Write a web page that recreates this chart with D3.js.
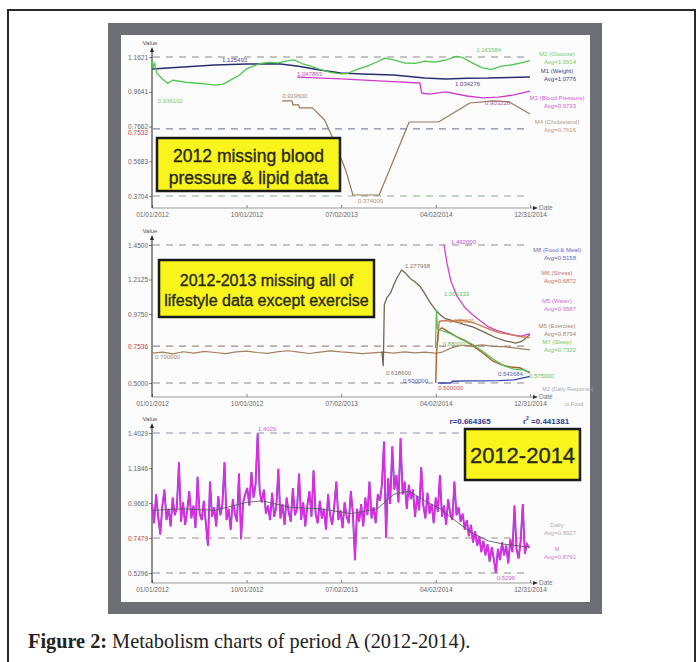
<!DOCTYPE html>
<html>
<head>
<meta charset="utf-8">
<script src="https://cdn.jsdelivr.net/npm/d3@7"></script>
<style>
body { margin: 0; background: #fff; }
svg { display: block; font-family: "Liberation Sans", Arial, sans-serif; }
</style>
</head>
<body>
<script>
// DATA

var dateTicks = ["2012-01-01", "2012-10-01", "2013-07-02", "2014-04-02", "2014-12-31"];

var p1Ticks = [0.3704, 0.5683, 0.7662, 0.9641, 1.1621];
var p2Ticks = [0.5, 0.975, 1.2125, 1.45];
var p3Ticks = [0.5296, 0.7479, 0.9663, 1.1846, 1.4029];

// panel 1 - body measures
var m1Weight = [["2012-01-01",1.094],["2012-04-01",1.105],["2012-07-01",1.116],["2012-10-01",1.122],["2013-01-01",1.123],
  ["2013-03-01",1.110],["2013-05-01",1.088],["2013-07-01",1.071],["2013-09-01",1.065],["2013-12-01",1.060],
  ["2014-03-01",1.042],["2014-05-01",1.037],["2014-07-01",1.041],["2014-09-01",1.042],["2014-11-01",1.046],["2014-12-31",1.048]];

var m2Glucose = [["2012-01-01",1.145],["2012-01-04",1.100],["2012-01-08",1.128],["2012-01-15",1.070],["2012-02-01",1.035],
  ["2012-02-15",1.012],["2012-03-01",1.030],["2012-03-20",1.024],["2012-04-10",1.018],["2012-05-01",1.014],
  ["2012-05-25",1.010],["2012-06-15",1.006],["2012-07-05",1.002],["2012-07-25",1.008],["2012-08-15",1.030],
  ["2012-09-10",1.058],["2012-10-01",1.095],["2012-10-20",1.110],["2012-11-10",1.125],["2012-12-05",1.132],
  ["2013-01-01",1.128],["2013-01-25",1.140],["2013-02-15",1.146],["2013-03-10",1.125],["2013-04-05",1.110],
  ["2013-05-01",1.092],["2013-06-01",1.075],["2013-07-01",1.066],["2013-07-20",1.068],["2013-08-15",1.090],
  ["2013-09-15",1.110],["2013-10-15",1.135],["2013-11-05",1.156],["2013-12-01",1.146],["2014-01-01",1.128],
  ["2014-02-01",1.126],["2014-03-01",1.138],["2014-04-01",1.133],["2014-05-01",1.145],["2014-06-01",1.166],
  ["2014-06-20",1.158],["2014-07-15",1.130],["2014-08-15",1.100],["2014-09-10",1.092],["2014-10-10",1.110],
  ["2014-11-10",1.118],["2014-12-05",1.128],["2014-12-31",1.142]];

var m3Pressure = [["2013-02-24",1.048],["2013-07-01",1.037],["2013-11-01",1.025],["2014-02-15",1.014],["2014-02-20",0.957],
  ["2014-03-15",0.951],["2014-05-01",0.963],["2014-07-01",0.940],["2014-08-15",0.929],["2014-10-01",0.934],
  ["2014-11-15",0.946],["2014-12-31",0.968]];

var m4Chol = [["2013-01-12",0.912],["2013-02-10",0.912],["2013-02-12",0.889],["2013-03-01",0.889],["2013-03-03",0.872],
  ["2013-04-10",0.872],["2013-05-15",0.803],["2013-06-10",0.689],["2013-07-15",0.519],["2013-08-05",0.376],
  ["2013-10-20",0.376],["2014-01-15",0.792],["2014-04-10",0.792],["2014-07-10",0.900],["2014-09-15",0.912],
  ["2014-11-01",0.906],["2014-12-31",0.838]];

// panel 2 - lifestyle
var m5Exercise = [["2012-01-01",0.705],["2012-02-01",0.712],["2012-03-01",0.700],["2012-04-01",0.715],["2012-05-01",0.706],
  ["2012-06-01",0.718],["2012-07-01",0.710],["2012-08-01",0.702],["2012-09-01",0.714],["2012-10-01",0.720],
  ["2012-11-01",0.710],["2012-12-01",0.704],["2013-01-01",0.716],["2013-02-01",0.722],["2013-03-01",0.712],
  ["2013-04-01",0.703],["2013-05-01",0.712],["2013-06-01",0.721],["2013-07-01",0.714],["2013-08-01",0.709],
  ["2013-09-01",0.702],["2013-10-01",0.708],["2013-11-01",0.712],["2013-12-01",0.706],["2014-01-01",0.714],
  ["2014-02-01",0.708],["2014-03-01",0.712],["2014-04-01",0.705],["2014-04-20",0.712],["2014-05-15",0.740],
  ["2014-06-15",0.760],["2014-07-15",0.756],["2014-08-15",0.762],["2014-09-15",0.752],["2014-10-15",0.750],
  ["2014-11-15",0.742],["2014-12-31",0.728]];

var m5Peak = [["2013-10-28",0.715],["2013-11-01",0.619],["2013-11-04",1.040],["2013-11-12",1.090],["2013-11-22",1.120],
  ["2013-12-02",1.180],["2013-12-12",1.230],["2013-12-24",1.278],["2014-01-05",1.255],["2014-01-18",1.220],
  ["2014-02-01",1.195],["2014-02-14",1.170],["2014-02-28",1.120],["2014-03-15",1.060],["2014-03-30",1.010],
  ["2014-04-12",0.975],["2014-04-28",0.945],["2014-05-20",0.930],["2014-06-20",0.905],["2014-07-20",0.885],
  ["2014-08-20",0.850],["2014-09-20",0.815],["2014-10-20",0.790],["2014-11-20",0.775],["2014-12-10",0.790],
  ["2014-12-31",0.835]];

var m5Water = [["2014-04-26",1.450],["2014-05-04",1.330],["2014-05-16",1.200],["2014-06-02",1.100],["2014-06-25",1.020],
  ["2014-07-18",0.970],["2014-08-08",0.930],["2014-08-30",0.890],["2014-09-25",0.862],["2014-10-20",0.845],
  ["2014-11-15",0.830],["2014-12-05",0.822],["2014-12-31",0.840]];

var m6Stress = [["2014-04-06",0.760],["2014-04-12",0.925],["2014-05-01",0.930],["2014-05-20",0.924],["2014-06-10",0.932],
  ["2014-07-01",0.926],["2014-07-20",0.915],["2014-08-15",0.890],["2014-09-10",0.865],["2014-10-05",0.845],
  ["2014-11-01",0.835],["2014-12-01",0.820],["2014-12-31",0.812]];

var m6Low = [["2014-04-02",0.500],["2014-04-04",0.700],["2014-04-10",0.860],["2014-04-20",0.880],["2014-05-10",0.850],
  ["2014-06-01",0.820],["2014-06-28",0.790],["2014-07-25",0.745],["2014-08-20",0.700],["2014-09-15",0.650],
  ["2014-10-10",0.625],["2014-11-05",0.610],["2014-12-01",0.605],["2014-12-31",0.570]];

var m7Sleep = [["2014-04-01",0.740],["2014-04-04",1.000],["2014-04-07",0.870],["2014-04-20",0.860],["2014-05-15",0.840],
  ["2014-06-15",0.800],["2014-07-15",0.770],["2014-08-15",0.720],["2014-09-15",0.665],["2014-10-15",0.620],
  ["2014-11-15",0.595],["2014-12-10",0.590],["2014-12-31",0.575]];

var m8Food = [["2014-04-08",0.500],["2014-05-15",0.500],["2014-05-20",0.512],["2014-07-01",0.514],["2014-08-15",0.515],
  ["2014-10-01",0.516],["2014-11-15",0.522],["2014-12-31",0.545]];

// panel 3 - daily response, one value every 6 days from 01/01/2012
var dailyStart = "2012-01-01";
var dailyStep = 6;
var daily = [
  0.96,0.84,1.02,0.88,0.77,0.95,1.05,0.86,0.93,0.82,
  1.00,0.89,0.94,1.22,0.85,0.97,0.83,0.92,1.04,0.87,
  0.95,0.81,1.13,0.90,0.86,0.98,0.84,0.70,1.10,0.88,
  0.94,0.82,1.01,0.89,0.96,1.22,0.86,0.93,0.80,0.99,
  0.90,0.85,1.15,0.74,0.97,1.02,1.06,0.95,1.16,1.00,
  1.08,1.40,1.04,0.97,1.05,0.90,0.95,0.86,1.03,0.88,
  0.94,1.18,0.87,0.96,0.83,1.00,0.91,0.85,1.06,0.89,
  0.93,1.15,0.86,0.97,0.82,0.95,1.04,0.88,1.17,0.90,
  0.84,0.98,0.87,0.93,0.80,1.02,0.89,0.83,0.95,1.10,
  0.86,0.92,0.81,0.97,0.88,0.84,1.04,0.90,0.61,0.93,
  0.85,0.96,0.82,1.00,0.89,1.10,0.87,0.94,0.84,1.02,
  0.98,1.08,1.35,0.75,1.12,0.96,1.32,1.05,1.14,0.97,
  1.37,1.02,1.10,0.93,1.08,0.99,1.05,0.88,1.01,0.92,
  1.19,0.95,0.87,1.03,0.90,0.96,0.84,1.00,0.91,1.14,
  0.88,0.95,0.83,0.99,0.90,0.86,1.10,0.89,0.94,0.85,
  0.90,0.80,0.86,0.76,0.83,0.72,0.79,0.70,0.76,0.66,
  0.73,0.64,0.71,0.60,0.69,0.62,0.53,0.68,0.61,0.72,
  0.64,0.70,0.59,0.74,0.66,0.95,0.68,0.62,0.73,0.96,
  0.65,0.71,0.69];

var dailyTrend = [["2012-01-01",0.92],["2012-04-01",0.93],["2012-07-01",0.92],["2012-10-01",0.97],["2012-11-15",0.98],
  ["2013-02-01",0.94],["2013-05-01",0.93],["2013-08-01",0.90],["2013-10-15",0.93],["2013-12-01",1.02],
  ["2014-01-15",1.04],["2014-03-01",0.98],["2014-04-15",0.93],["2014-06-01",0.85],["2014-07-15",0.78],
  ["2014-09-01",0.73],["2014-10-15",0.71],["2014-12-31",0.69]];

// value labels: date, value, text, colour
var p1Notes = [["2012-07-22",1.134,"1.125493","#4a4d90"],["2013-02-24",1.054,"1.047863","#c050c0"],
  ["2014-05-28",0.997,"1.034276","#4a4d90"],["2012-01-18",0.900,"0.936102","#70c870"],
  ["2014-07-28",1.190,"1.163584","#70c870"],["2013-01-12",0.929,"0.919600","#a88a6a"],
  ["2013-08-20",0.331,"0.374000","#b89070"],["2014-08-23",0.889,"0.903228","#b060a0"]];
var p2Notes = [["2014-05-16",1.457,"1.492000","#c050d0"],["2014-01-03",1.292,"1.277968","#8a7860"],
  ["2013-11-09",0.555,"0.618600","#8a7860"],["2012-01-10",0.665,"0.700000","#a08870"],
  ["2014-04-26",1.099,"1.001333","#60c060"],["2013-12-28",0.500,"0.500000","#5060c0"],
  ["2014-04-09",0.452,"0.500000","#d05050"],["2014-09-29",0.548,"0.543684","#5060c0"],
  ["2014-12-28",0.535,"0.575000","#60c060"],["2014-05-10",0.913,"0.930000","#d08040"],
  ["2014-04-22",0.755,"0.880000","#80b060"]];
var p3Notes = [["2012-11-03",1.415,"1.4029","#d060d0"],["2014-09-26",0.486,"0.5296","#d060d0"]];

// right side legends: name, average, colour
var p1Legend = [["M2 (Glucose)","Avg=1.0914","#70cc70"],["M1 (Weight)","Avg=1.0776","#3a3d8a"],
  ["M3 (Blood Pressure)","Avg=0.9733","#d060d0"],["M4 (Cholesterol)","Avg=0.7616","#b89a80"]];
var p2Legend = [["M8 (Food & Meal)","Avg=0.5158","#6a6ab8"],["M6 (Stress)","Avg=0.6872","#c87060"],
  ["M5 (Water)","Avg=0.9587","#d070d0"],["M5 (Exercise)","Avg=0.8794","#a08870"],["M7 (Sleep)","Avg=0.7320","#70c870"]];
var p3Legend = [["Daily","Avg=0.8927","#b8a8b0"],["M","Avg=0.8791","#d080d0"]];

// SETUP

var parse = d3.timeParse("%Y-%m-%d");
var fmt = d3.timeFormat("%m/%d/%Y");

var svg = d3.select("body").append("svg")
  .attr("width", 700)
  .attr("height", 662);

svg.append("rect").attr("width", 700).attr("height", 662).attr("fill", "#fff");

// page frame
svg.append("path").attr("d", "M8,662V10H695V662")
  .attr("fill", "none").attr("stroke", "#2a2a2a").attr("stroke-width", 2);

// grey photo border
svg.append("rect").attr("x", 108).attr("y", 23).attr("width", 494).attr("height", 591).attr("fill", "#6d6f75");
svg.append("rect").attr("x", 121).attr("y", 35).attr("width", 469).attr("height", 567).attr("fill", "#fcfcfc");

var x = d3.scaleTime()
  .domain([parse("2012-01-01"), parse("2014-12-31")])
  .range([152, 530]);

function drawSeries(g, y, data, color, w) {
  g.append("path").datum(data)
    .attr("fill", "none")
    .attr("stroke", color)
    .attr("stroke-width", w || 1.2)
    .attr("stroke-linejoin", "round")
    .attr("d", d3.line().x(function (d) { return x(parse(d[0])); }).y(function (d) { return y(d[1]); }));
}

function drawNotes(g, y, notes) {
  notes.forEach(function (n) {
    g.append("text").attr("x", x(parse(n[0]))).attr("y", y(n[1]))
      .attr("fill", n[3]).style("font-size", "6px").text(n[2]);
  });
}

function drawLegend(g, items, ys) {
  items.forEach(function (d, i) {
    g.append("text").attr("x", 557).attr("y", ys[i]).attr("text-anchor", "middle")
      .attr("fill", d[2]).style("font-size", "6px").text(d[0]);
    g.append("text").attr("x", 560).attr("y", ys[i] + 7.5).attr("text-anchor", "middle")
      .attr("fill", d[2]).style("font-size", "6px").text(d[1]);
  });
}

// panel skeleton: dashed lines, axes, arrows
function drawPanel(p) {
  var y = d3.scaleLinear().domain([p.lo, p.hi]).range([p.yLo, p.yHi]);
  var g = svg.append("g");

  p.dashes.forEach(function (d) {
    g.append("line").attr("x1", 153).attr("x2", 530).attr("y1", y(d[0])).attr("y2", y(d[0]))
      .attr("stroke", d[1]).attr("stroke-width", 1.2).attr("stroke-dasharray", "7,6");
  });

  var xa = g.append("g").attr("transform", "translate(0," + p.axisY + ")")
    .call(d3.axisBottom(x).tickValues(dateTicks.map(parse)).tickFormat(fmt)
      .tickSizeInner(-3).tickSizeOuter(0).tickPadding(4));
  xa.select(".domain").attr("stroke", "#999").attr("d", "M152,0H533");
  xa.selectAll(".tick line").attr("stroke", "#888");
  xa.selectAll("text").attr("fill", "#666").style("font-size", "6.5px");

  g.append("path").attr("d", "M538," + p.axisY + "l-5,-2v4z").attr("fill", "#333");
  g.append("text").attr("x", 539).attr("y", p.axisY + 2).attr("fill", "#777").style("font-size", "6.5px").text("Date");

  var ya = g.append("g").attr("transform", "translate(152,0)")
    .call(d3.axisLeft(y).tickValues(p.ticks).tickFormat(d3.format(".4f")).tickSize(3).tickPadding(1));
  ya.select(".domain").remove();
  ya.selectAll(".tick line").attr("stroke", "#888");
  ya.selectAll("text").attr("fill", function (d) { return d === p.redTick ? "#c04040" : "#666"; })
    .style("font-size", "6.5px");

  g.append("line").attr("x1", 152).attr("x2", 152).attr("y1", p.top).attr("y2", p.axisY)
    .attr("stroke", "#222").attr("stroke-width", 1);
  g.append("path").attr("d", "M152," + (p.top - 3) + "l-2,5h4z").attr("fill", "#222");
  g.append("text").attr("x", 150).attr("y", p.top - 5).attr("text-anchor", "middle")
    .attr("fill", "#555").style("font-size", "6px").text("Value");

  if (p.red) {
    g.append("text").attr("x", 148).attr("y", y(p.red[0]) + p.redShift).attr("text-anchor", "end")
      .attr("fill", "#c04040").style("font-size", "6.5px").text(p.red[1]);
  }
  return { g: g, y: y };
}

function yellowBox(x0, y0, w, h, lines, size, ys) {
  svg.append("rect").attr("x", x0).attr("y", y0).attr("width", w).attr("height", h)
    .attr("fill", "#f8f41c").attr("stroke", "#1a1a1a").attr("stroke-width", 2.5);
  lines.forEach(function (t, i) {
    svg.append("text").attr("x", x0 + w / 2).attr("y", ys[i]).attr("text-anchor", "middle")
      .attr("fill", "#2a2a1a").attr("stroke", "#2a2a1a").attr("stroke-width", 0.35)
      .style("font-size", size + "px").text(t);
  });
}

// PANEL 1
var P1 = drawPanel({ lo: 0.3704, hi: 1.1621, yLo: 196, yHi: 57, axisY: 208, top: 50,
  ticks: p1Ticks, red: [0.7532, "0.7532"], redShift: 6.5,
  dashes: [[1.1621, "#8a8a8a"], [0.7532, "#8088aa"], [0.3704, "#90a890"]] });
drawSeries(P1.g, P1.y, m4Chol, "#9c7656", 1.2);
drawSeries(P1.g, P1.y, m3Pressure, "#cc3ccc", 1.3);
drawSeries(P1.g, P1.y, m1Weight, "#2b2d70", 1.5);
drawSeries(P1.g, P1.y, m2Glucose, "#4cc84c", 1.3);
drawNotes(P1.g, P1.y, p1Notes);
drawLegend(P1.g, p1Legend, [56, 73, 100, 124]);

// PANEL 2
var P2 = drawPanel({ lo: 0.5, hi: 1.45, yLo: 383, yHi: 245, axisY: 397, top: 238,
  ticks: p2Ticks, red: [0.7536, "0.7536"], redShift: 2.5,
  dashes: [[1.45, "#8a8a8a"], [0.7536, "#a08888"], [0.5, "#8a8a8a"]] });
drawSeries(P2.g, P2.y, m5Exercise, "#a38262", 1.2);
drawSeries(P2.g, P2.y, m5Peak, "#75664c", 1.3);
drawSeries(P2.g, P2.y, m5Water, "#cc44cc", 1.3);
drawSeries(P2.g, P2.y, m6Stress, "#cf7a52", 1.4);
drawSeries(P2.g, P2.y, m6Low, "#a8602c", 1.4);
drawSeries(P2.g, P2.y, m7Sleep, "#52c052", 1.2);
drawSeries(P2.g, P2.y, m8Food, "#3848b0", 1.3);
drawNotes(P2.g, P2.y, p2Notes);
drawLegend(P2.g, p2Legend, [252, 275, 303, 328, 344]);
P2.g.append("text").attr("x", 568).attr("y", 391).attr("text-anchor", "middle")
  .attr("fill", "#aaa").style("font-size", "5.5px").text("M2 (Daily Response)");
P2.g.append("text").attr("x", 574).attr("y", 406).attr("text-anchor", "middle")
  .attr("fill", "#aaa").style("font-size", "5.5px").text("to Food");

// PANEL 3
var P3 = drawPanel({ lo: 0.5296, hi: 1.4029, yLo: 573, yHi: 433, axisY: 583, top: 426,
  ticks: p3Ticks, redTick: 0.7479,
  dashes: [[1.4029, "#8890b0"], [0.7479, "#a08888"], [0.5296, "#8a8a8a"]] });
var t0 = parse(dailyStart);
var dailyLine = d3.line()
  .x(function (d, i) { return x(d3.timeDay.offset(t0, i * dailyStep)); })
  .y(function (d) { return P3.y(d); });
P3.g.append("path").datum(daily).attr("fill", "none").attr("stroke", "#8a40cc")
  .attr("stroke-width", 1.9).attr("d", dailyLine);
P3.g.append("path").datum(daily).attr("fill", "none").attr("stroke", "#e52ae5")
  .attr("stroke-width", 1.3).attr("d", dailyLine);
drawSeries(P3.g, P3.y, dailyTrend, "#5a5a5a", 0.9);
drawNotes(P3.g, P3.y, p3Notes);
drawLegend(P3.g, p3Legend, [527, 551]);

P3.g.append("text").attr("x", 470).attr("y", 424).attr("text-anchor", "middle")
  .attr("fill", "#2a3a90").style("font-size", "8px").style("font-weight", "bold").text("r=0.664365");
var r2 = P3.g.append("text").attr("x", 546).attr("y", 424).attr("text-anchor", "middle")
  .attr("fill", "#2a3a90").style("font-size", "8px").style("font-weight", "bold");
r2.append("tspan").text("r");
r2.append("tspan").attr("dy", -4).style("font-size", "5px").text("2");
r2.append("tspan").attr("dy", 4).text(" =0.441381");

// yellow notes on top
yellowBox(157, 138, 183, 53, ["2012 missing blood", "pressure & lipid data"], 17.5, [162, 184]);
yellowBox(159, 260, 215, 57, ["2012-2013 missing all of", "lifestyle data except exercise"], 16, [286, 306]);
yellowBox(465, 429, 115, 51, ["2012-2014"], 22, [463]);

// caption
var cap = svg.append("text").attr("x", 28).attr("y", 648)
  .attr("fill", "#222")
  .style("font-family", "'Liberation Serif', 'DejaVu Serif', serif")
  .style("font-size", "20.3px");
cap.append("tspan").style("font-weight", "bold").text("Figure 2:");
cap.append("tspan").text(" Metabolism charts of period A (2012-2014).");
</script>
</body>
</html>
